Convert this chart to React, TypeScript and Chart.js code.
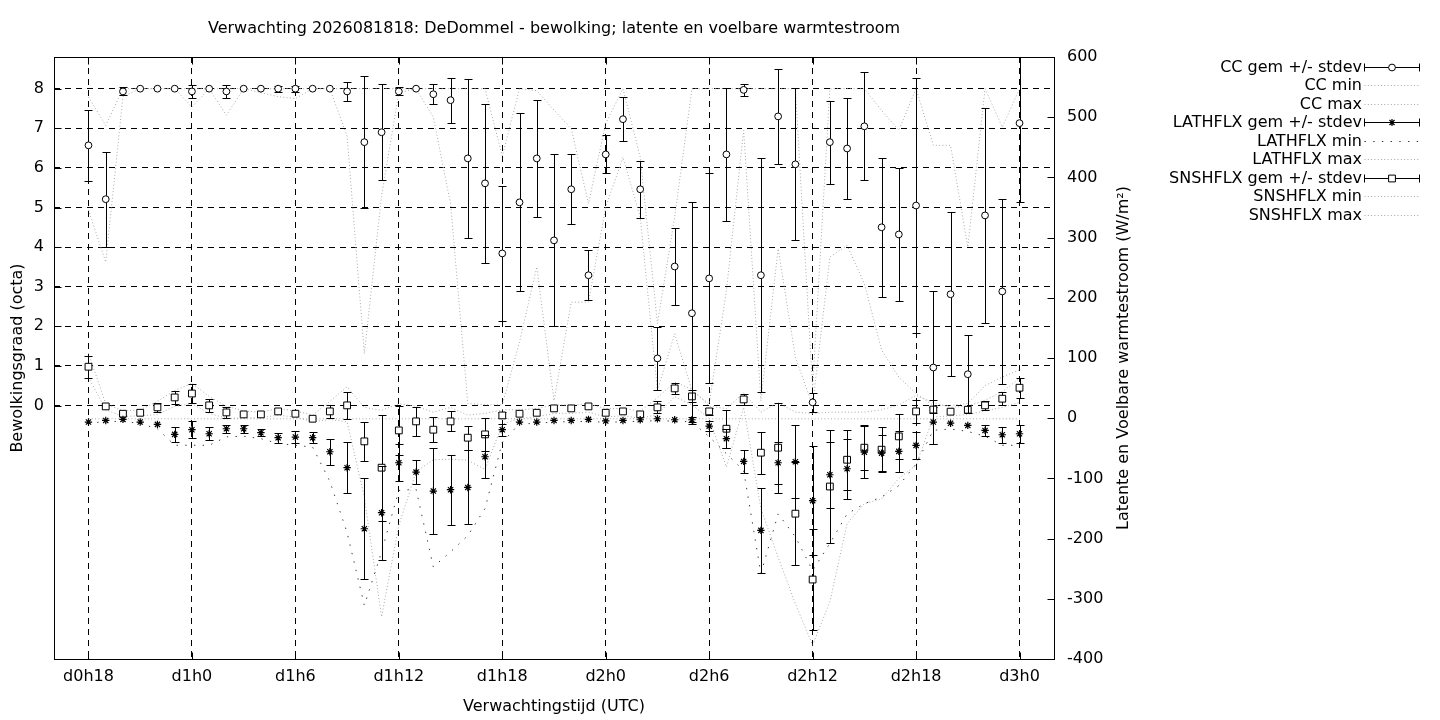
import React, { useEffect, useRef } from "react";
import { Chart, registerables } from "chart.js";

Chart.register(...registerables);

const FONT = "'DejaVu Sans', sans-serif";
const FS = 16;

// ---------- data ----------
const hours = [
  18, 19, 20, 21, 22, 23, 24, 25, 26, 27, 28, 29, 30, 31, 32, 33, 34, 35,
  36, 37, 38, 39, 40, 41, 42, 43, 44, 45, 46, 47, 48, 49, 50, 51, 52, 53,
  54, 55, 56, 57, 58, 59, 60, 61, 62, 63, 64, 65, 66, 67, 68, 69, 70, 71, 72,
];

const xTickValues = [18, 24, 30, 36, 42, 48, 54, 60, 66, 72];
const xTickLabels = ["d0h18", "d1h0", "d1h6", "d1h12", "d1h18", "d2h0", "d2h6", "d2h12", "d2h18", "d3h0"];
const yTickValues = [0, 1, 2, 3, 4, 5, 6, 7, 8];

// Cloud cover (octa)
const ccMean = [
  6.57, 5.21, 7.93, 8.0, 8.0, 8.0,
  7.93, 8.0, 7.93, 8.0, 8.0, 8.0,
  8.0, 8.0, 8.0, 7.93, 6.65, 6.9,
  7.93, 8.0, 7.86, 7.71, 6.24, 5.61,
  3.84, 5.13, 6.24, 4.17, 5.46, 3.29,
  6.34, 7.23, 5.46, 1.19, 3.51, 2.33,
  3.21, 6.34, 7.97, 3.29, 7.3, 6.09,
  0.08, 6.65, 6.49, 7.05, 4.5, 4.32,
  5.05, 0.96, 2.81, 0.79, 4.8, 2.88,
  7.13,
];
const ccStdev = [
  0.89, 1.2, 0.1, 0, 0, 0,
  0.17, 0, 0.17, 0, 0, 0.08,
  0.08, 0, 0, 0.24, 1.67, 1.21,
  0.1, 0, 0.25, 0.57, 2.0, 2.0,
  1.7, 2.25, 1.47, 2.17, 0.88, 0.63,
  0.48, 0.56, 0.72, 0.79, 0.97, 2.8,
  2.65, 1.67, 0.16, 2.96, 1.2, 1.92,
  0.24, 1.05, 1.28, 1.36, 1.76, 1.68,
  3.21, 1.92, 2.07, 0.98, 2.72, 2.33,
  2.0,
];
const ccMin = [
  4.94, 3.62, 7.8, 8, 8, 8,
  7.54, 8, 7.33, 8, 7.9, 7.8,
  7.75, 8, 8, 6.8, 1.31, 5.3,
  7.9, 8, 7.28, 5.1, 0.05, 0.02,
  0.02, 1.6, 3.5, 0.12, 2.61, 2.61,
  5.01, 6.27, 4.76, 0.38, 1.81, 0.38,
  0.04, 2.9, 6.95, 0.12, 3.96, 1.22,
  0, 3.75, 4.04, 3.08, 1.4, 0.72,
  0.3, 0, 0, 0.05, 0.5, 0.72,
  0.9,
];
const ccMax = [
  7.79, 7.07, 8, 8, 8, 8,
  8, 8, 8, 8, 8, 8,
  8, 8, 8, 8, 8, 8,
  8, 8, 8, 8, 8, 8,
  6.3, 8, 7.95, 7.46, 6.99, 5.1,
  7.12, 8, 6.27, 2.07, 4.76, 8,
  8, 8, 8, 8, 8, 8,
  0.45, 8, 8, 8, 7.45, 6.95,
  8, 6.57, 6.57, 4.0, 8, 7.03,
  8,
];

// Latent heat flux (W/m2)
const lhMean = [
  -6.4, -3.7, -2, -6.4, -10.3, -26.9,
  -19.1, -25.8, -17.5, -17.5, -24.1, -32.4,
  -31.3, -32.4, -55.7, -82.2, -183.6, -157,
  -74, -89.5, -121, -118.8, -115, -64,
  -19.1, -6.4, -6.4, -3.7, -3.7, -2,
  -4.6, -3.7, -2.6, -0.9, -2.6, -2.6,
  -13.1, -34, -71.8, -186.4, -74, -72.3,
  -137, -93.9, -84, -56.3, -58, -55.1,
  -45.2, -6.4, -8.3, -12, -20.3, -27.5,
  -25.8,
];
const lhStdev = [
  0, 0, 0, 0, 0, 12.4,
  13.8, 11, 7, 7, 6, 8,
  10.5, 9, 21.7, 42, 84, 78,
  31, 20.5, 71.4, 58, 61.5, 36,
  10, 0, 0, 0, 0, 0,
  0, 0, 0, 0, 0, 4,
  8, 15.5, 19.4, 71, 35, 61,
  90, 55, 50, 43, 30, 34,
  22, 36, 0, 0, 9, 13,
  15,
];
const lhMin = [
  -8, -6, -5, -9, -17.5, -45,
  -45, -45, -31, -30, -34, -42,
  -45, -48, -105, -190, -311, -222,
  -120, -118, -247, -222, -195, -150,
  -40, -9, -9, -6, -6, -5,
  -7, -6, -5, -4, -5, -6,
  -31, -59, -87, -258, -159, -197,
  -253, -208, -159, -142, -131, -112,
  -76, -20, -18, -22, -30, -45,
  -45,
];
const lhMax = [
  -1, -1, -1, -1, -1, -1,
  -1, -1, -1, -1, -1, -1,
  -1, -1, -1, -1, -1, -1,
  -1, -1, -1, -1, -1, -1,
  -1, -1, -1, -1, -1, -1,
  -1, -1, -1, -1, -1, -1,
  -1, -1, -1, -1, -1, -1,
  -1, -1, -1, -1, -1, -1,
  -1, -1, -1, -1, -1, -1,
  -1,
];

// Sensible heat flux (W/m2)
const snMean = [
  85.5, 19.6, 7.4, 9, 18, 34.5,
  41, 21.3, 9.6, 6.3, 6.3, 11.3,
  7.4, -0.9, 11.3, 21.3, -38.5, -82.2,
  -20.3, -5.3, -19.1, -5.3, -32.4, -26.9,
  4.6, 7.4, 9, 16.3, 16.3, 19.6,
  9, 11.3, 6.3, 18, 49.5, 36.2,
  11.3, -17.5, 31.2, -57.3, -49, -158.6,
  -268, -113.5, -69, -49, -52.3, -30.2,
  11.3, 14.3, 10.8, 14, 21.3, 32.4,
  50.6,
];
const snStdev = [
  18.5, 0, 0, 0, 8, 11,
  15, 11, 9, 0, 0, 0,
  0, 0, 11, 23, 32, 88,
  40, 24, 21, 16.6, 20, 27,
  5, 0, 0, 0, 0, 0,
  0, 0, 0, 10, 9, 10,
  6, 31.6, 9.5, 35, 75, 86,
  84, 94, 50, 37, 37.6, 37.6,
  19, 5, 0, 0, 8, 11,
  16.6,
];
const snMin = [
  68, 14, 3, 4, 6, 20,
  24, 8, 0, 0, 1, 5,
  2, -6, -2, -6, -131, -330,
  -178, -89, -69, -68, -70, -85,
  -10, 0, 2, 8, 8, 10,
  2, 4, 0, 6, 36, 22,
  0, -81, 18, -150, -231, -308,
  -377, -305, -175, -142, -134, -100,
  -78, 2, 4, 6, 12, 18,
  26,
];
const snMax = [
  108, 24, 12, 14, 28, 46,
  58, 36, 20, 12, 10, 16,
  12, 5, 28, 52, 18, 13,
  24, 20, 10, 18, 5, 8,
  14, 14, 16, 22, 22, 24,
  16, 16, 12, 34, 60, 48,
  20, 16, 42, 10, 26, 10,
  8, 10, 10, 10, 14, 22,
  38, 26, 18, 20, 30, 44,
  66,
];

const titleText = "Verwachting 2026081818: DeDommel - bewolking; latente en voelbare warmtestroom";
const xAxisTitle = "Verwachtingstijd (UTC)";
const yAxisTitle = "Bewolkingsgraad (octa)";
const y2AxisTitle = "Latente en Voelbare warmtestroom (W/m\u00B2)";

// ---------- styles ----------
const GRAY = "#a8a8a8";
const DARK = "#3a3a3a";
const DOT = [1, 2.3];
const SPARSE_DOT = [1.4, 7.3];

type LegendEntry = { label: string; kind: "err" | "line"; marker?: string; color?: string; dash?: number[] };
const legendEntries: LegendEntry[] = [
  { label: "CC gem +/- stdev", kind: "err", marker: "circle" },
  { label: "CC min", kind: "line", color: GRAY, dash: DOT },
  { label: "CC max", kind: "line", color: GRAY, dash: DOT },
  { label: "LATHFLX gem +/- stdev", kind: "err", marker: "star" },
  { label: "LATHFLX min", kind: "line", color: DARK, dash: SPARSE_DOT },
  { label: "LATHFLX max", kind: "line", color: GRAY, dash: DOT },
  { label: "SNSHFLX gem +/- stdev", kind: "err", marker: "rect" },
  { label: "SNSHFLX min", kind: "line", color: GRAY, dash: DOT },
  { label: "SNSHFLX max", kind: "line", color: GRAY, dash: DOT },
];

const pts = (vals: number[]) => hours.map((h, i) => ({ x: h, y: vals[i] }));

function drawMarker(ctx: CanvasRenderingContext2D, kind: string, x: number, y: number) {
  ctx.save();
  ctx.setLineDash([]);
  ctx.lineWidth = 1;
  ctx.strokeStyle = "#000";
  ctx.fillStyle = "#fff";
  if (kind === "circle") {
    ctx.beginPath();
    ctx.arc(x, y, 3.4, 0, Math.PI * 2);
    ctx.fill();
    ctx.stroke();
  } else if (kind === "rect") {
    ctx.beginPath();
    ctx.rect(x - 3.4, y - 3.4, 6.8, 6.8);
    ctx.fill();
    ctx.stroke();
  } else {
    const r = 3.6;
    const d = r * Math.SQRT1_2;
    ctx.lineWidth = 1.2;
    ctx.beginPath();
    ctx.moveTo(x - r, y); ctx.lineTo(x + r, y);
    ctx.moveTo(x, y - r); ctx.lineTo(x, y + r);
    ctx.moveTo(x - d, y - d); ctx.lineTo(x + d, y + d);
    ctx.moveTo(x - d, y + d); ctx.lineTo(x + d, y - d);
    ctx.stroke();
  }
  ctx.restore();
}

const errorBarPlugin = {
  id: "gpErrorBars",
  beforeDatasetDraw(chart: any, args: any) {
    const ds = chart.data.datasets[args.index];
    if (!ds.stdev) return;
    const yScale = chart.scales[ds.yAxisID];
    const xScale = chart.scales.x;
    const ctx: CanvasRenderingContext2D = chart.ctx;
    const a = chart.chartArea;
    ctx.save();
    ctx.beginPath();
    ctx.rect(a.left, a.top, a.right - a.left, a.bottom - a.top);
    ctx.clip();
    ctx.strokeStyle = "#000";
    ctx.lineWidth = 1;
    ctx.setLineDash([]);
    ds.data.forEach((p: any, i: number) => {
      const sd = ds.stdev[i];
      if (!sd) return;
      const x = Math.round(xScale.getPixelForValue(p.x)) + 0.5;
      const yHi = Math.round(yScale.getPixelForValue(p.y + sd)) + 0.5;
      const yLo = Math.round(yScale.getPixelForValue(p.y - sd)) + 0.5;
      ctx.beginPath();
      ctx.moveTo(x, yHi);
      ctx.lineTo(x, yLo);
      ctx.moveTo(x - 4, yHi);
      ctx.lineTo(x + 4, yHi);
      ctx.moveTo(x - 4, yLo);
      ctx.lineTo(x + 4, yLo);
      ctx.stroke();
    });
    ctx.restore();
  },
};

const framePlugin = {
  id: "gpFrame",
  afterDraw(chart: any) {
    const ctx: CanvasRenderingContext2D = chart.ctx;
    const a = chart.chartArea;
    const L = Math.round(a.left) + 0.5;
    const R = Math.round(a.right) + 0.5;
    const T = Math.round(a.top) + 0.5;
    const B = Math.round(a.bottom) + 0.5;
    ctx.save();
    ctx.strokeStyle = "#000";
    ctx.lineWidth = 1;
    ctx.setLineDash([]);
    ctx.strokeRect(L, T, R - L, B - T);
    const tl = 7;
    ctx.beginPath();
    chart.scales.x.ticks.forEach((t: any) => {
      const x = Math.round(chart.scales.x.getPixelForValue(t.value)) + 0.5;
      ctx.moveTo(x, B); ctx.lineTo(x, B - tl);
      ctx.moveTo(x, T); ctx.lineTo(x, T + tl);
    });
    chart.scales.y.ticks.forEach((t: any) => {
      const y = Math.round(chart.scales.y.getPixelForValue(t.value)) + 0.5;
      ctx.moveTo(L, y); ctx.lineTo(L + tl, y);
    });
    chart.scales.y2.ticks.forEach((t: any) => {
      const y = Math.round(chart.scales.y2.getPixelForValue(t.value)) + 0.5;
      ctx.moveTo(R, y); ctx.lineTo(R - tl, y);
    });
    ctx.stroke();

    // titles
    ctx.fillStyle = "#000";
    ctx.font = `${FS}px ${FONT}`;
    ctx.textAlign = "center";
    ctx.textBaseline = "middle";
    ctx.fillText(titleText, (a.left + a.right) / 2, 29);
    ctx.save();
    ctx.translate(1124, (a.top + a.bottom) / 2);
    ctx.rotate(-Math.PI / 2);
    ctx.fillText(y2AxisTitle, 0, 0);
    ctx.restore();

    // legend
    const textX = 1362;
    const x1 = 1364.5;
    const x2 = 1419.5;
    legendEntries.forEach((e, i) => {
      const y = Math.round(67 + i * 18.45) + 0.5;
      ctx.fillStyle = "#000";
      ctx.textAlign = "right";
      ctx.fillText(e.label, textX, y);
      ctx.save();
      if (e.kind === "err") {
        ctx.strokeStyle = "#000";
        ctx.lineWidth = 1;
        ctx.beginPath();
        ctx.moveTo(x1, y); ctx.lineTo(x2, y);
        ctx.moveTo(x1, y - 4); ctx.lineTo(x1, y + 4);
        ctx.moveTo(x2, y - 4); ctx.lineTo(x2, y + 4);
        ctx.stroke();
        drawMarker(ctx, e.marker || "circle", (x1 + x2) / 2, y);
      } else {
        ctx.strokeStyle = e.color || GRAY;
        ctx.lineWidth = 1;
        ctx.setLineDash(e.dash || DOT);
        ctx.beginPath();
        ctx.moveTo(x1, y); ctx.lineTo(x2, y);
        ctx.stroke();
      }
      ctx.restore();
    });
    ctx.restore();
  },
};

export default function App() {
  const ref = useRef<HTMLCanvasElement | null>(null);

  useEffect(() => {
    if (!ref.current) return;
    Chart.defaults.font.family = FONT;
    Chart.defaults.font.size = FS;
    Chart.defaults.color = "#000";

    const lineDs = (label: string, vals: number[], axis: string, color: string, dash: number[]) => ({
      label,
      data: pts(vals),
      yAxisID: axis,
      borderColor: color,
      borderWidth: 1,
      borderDash: dash,
      borderCapStyle: "butt",
      pointRadius: 0,
      pointHoverRadius: 0,
      fill: false,
      tension: 0,
      order: 10,
    });
    const meanDs = (label: string, vals: number[], sd: number[], axis: string, style: string, radius: number, bw: number) => ({
      label,
      data: pts(vals),
      stdev: sd,
      yAxisID: axis,
      showLine: false,
      pointStyle: style,
      pointRadius: radius,
      pointHoverRadius: radius,
      pointBackgroundColor: "#fff",
      pointBorderColor: "#000",
      pointBorderWidth: bw,
      order: 1,
    });

    const chart = new Chart(ref.current, {
      type: "line",
      data: {
        datasets: [
          meanDs("CC gem +/- stdev", ccMean, ccStdev, "y", "circle", 3.4, 1),
          lineDs("CC min", ccMin, "y", GRAY, DOT),
          lineDs("CC max", ccMax, "y", GRAY, DOT),
          meanDs("LATHFLX gem +/- stdev", lhMean, lhStdev, "y2", "star", 3.7, 1.2),
          lineDs("LATHFLX min", lhMin, "y2", DARK, SPARSE_DOT),
          lineDs("LATHFLX max", lhMax, "y2", GRAY, DOT),
          meanDs("SNSHFLX gem +/- stdev", snMean, snStdev, "y2", "rect", 4.8, 1),
          lineDs("SNSHFLX min", snMin, "y2", GRAY, DOT),
          lineDs("SNSHFLX max", snMax, "y2", GRAY, DOT),
        ] as any,
      },
      options: {
        animation: false,
        responsive: false,
        devicePixelRatio: 1,
        events: [],
        layout: { padding: { top: 57, right: 306, bottom: 0, left: 0 } },
        plugins: {
          legend: { display: false },
          title: { display: false },
          tooltip: { enabled: false },
        },
        scales: {
          x: {
            type: "linear",
            position: "bottom",
            min: 16,
            max: 74,
            afterBuildTicks: (axis: any) => {
              axis.ticks = xTickValues.map((v) => ({ value: v }));
            },
            afterFit: (s: any) => {
              s.height = 61;
            },
            ticks: {
              autoSkip: false,
              maxRotation: 0,
              padding: 8,
              font: { size: FS, family: FONT },
              callback: (v: any) => xTickLabels[xTickValues.indexOf(Number(v))] ?? "",
            },
            grid: { display: true, color: "#000", lineWidth: 1, drawTicks: false },
            border: { display: false, dash: [6, 5] },
            title: {
              display: true,
              text: xAxisTitle,
              font: { size: FS, family: FONT },
              padding: { top: 0, bottom: 4 },
            },
          },
          y: {
            type: "linear",
            position: "left",
            min: -6.4,
            max: 8.8,
            afterBuildTicks: (axis: any) => {
              axis.ticks = yTickValues.map((v) => ({ value: v }));
            },
            afterFit: (s: any) => {
              s.width = 54;
            },
            ticks: {
              padding: 10,
              font: { size: FS, family: FONT },
              callback: (v: any) => String(v),
            },
            grid: { display: true, color: "#000", lineWidth: 1, drawTicks: false },
            border: { display: false, dash: [6, 5] },
            title: {
              display: true,
              text: yAxisTitle,
              font: { size: FS, family: FONT },
              padding: { top: 8, bottom: 0 },
            },
          },
          y2: {
            type: "linear",
            position: "right",
            min: -400,
            max: 600,
            ticks: { stepSize: 100, padding: 13, font: { size: FS, family: FONT } },
            afterFit: (s: any) => {
              s.width = 80;
            },
            grid: { display: false, drawOnChartArea: false, drawTicks: false },
            border: { display: false },
          },
        },
      } as any,
      plugins: [errorBarPlugin, framePlugin],
    });
    return () => chart.destroy();
  }, []);

  return (
    <div style={{ position: "fixed", left: 0, top: 0, width: 1440, height: 720, background: "#fff" }}>
      <canvas ref={ref} width={1440} height={720} style={{ display: "block", width: 1440, height: 720 }} />
    </div>
  );
}
